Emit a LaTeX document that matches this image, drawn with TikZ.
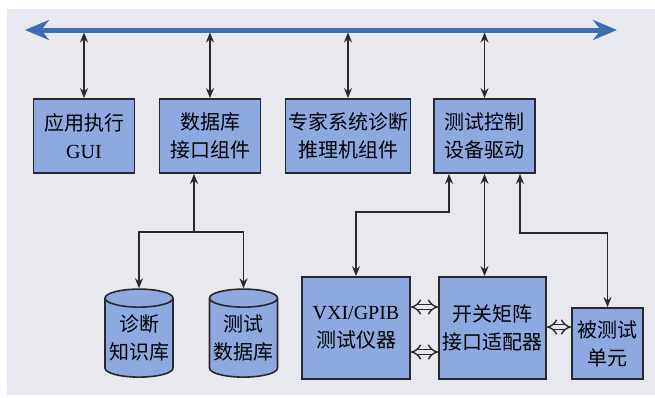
\documentclass[tikz,border=0pt]{standalone}
\usepackage{fontspec}
\setmainfont{Liberation Serif}
\newfontfamily\cjk{Noto Sans CJK SC}
\usetikzlibrary{arrows.meta,shapes.geometric}
\definecolor{paper}{RGB}{232,233,238}
\definecolor{boxblue}{RGB}{141,169,224}
\definecolor{busblue}{RGB}{61,109,181}
\definecolor{edge}{RGB}{40,40,45}
\begin{document}
\begin{tikzpicture}[x=1pt, y=-1pt,
    unit/.style={draw=edge, line width=1.8pt, fill=boxblue, align=center, inner sep=0pt,
      font=\cjk\fontsize{20}{28}\selectfont},
    store/.style={cylinder, shape border rotate=90, aspect=0.3, draw=edge, line width=1.6pt,
      fill=boxblue, align=center, inner sep=0pt, minimum width=68pt, minimum height=88pt,
      font=\cjk\fontsize{20}{28}\selectfont},
    link/.style={draw=edge, line width=1.3pt, {Stealth[length=10pt,width=8pt]}-{Stealth[length=10pt,width=8pt]}},
    uplink/.style={draw=edge, line width=1.3pt, -{Stealth[length=10pt,width=8pt]}},
    bus/.style={draw=busblue, line width=5pt, {Stealth[length=24pt,width=20pt]}-{Stealth[length=24pt,width=20pt]}},
    dbl/.style={draw=edge, line width=1.4pt, double=paper, double distance=3.8pt, {Implies}-{Implies}}]
        \useasboundingbox (0,0) rectangle (655,397);
        \fill[paper] (7,9) rectangle (655,395);

        \node[unit, minimum width=101pt, minimum height=74pt] (gui) at (84,136) {应用执行\\{\rmfamily GUI}};
        \node[unit, minimum width=101pt, minimum height=74pt] (dbif) at (210,136) {数据库\\接口组件};
        \node[unit, minimum width=125pt, minimum height=74pt] (expert) at (348,136) {专家系统诊断\\推理机组件};
        \node[unit, minimum width=101pt, minimum height=74pt] (ctrl) at (484.5,136) {测试控制\\设备驱动};

        \node[store] (kb) at (139,338) {诊断\\知识库};
        \node[store] (tdb) at (243.5,338) {测试\\数据库};

        \node[unit, minimum width=108pt, minimum height=102pt] (vxi) at (356,328) {{\rmfamily VXI/GPIB}\\测试仪器};
        \node[unit, minimum width=107pt, minimum height=102pt] (sw) at (492.5,328) {开关矩阵\\接口适配器};
        \node[unit, minimum width=71pt, minimum height=71pt] (dut) at (607.5,343.5) {被测试\\单元};

        \coordinate (busL) at (25,30);
        \coordinate (busR) at (617,30);
        \draw[bus] (busL) -- (busR);
        \foreach \n in {gui, dbif, expert, ctrl}
            \draw[link, shorten <=2.5pt] (\n.north |- busL) -- (\n.north);

        \coordinate (dbj) at (194,232);
        \draw[uplink] (dbj) -- (dbj |- dbif.south);
        \draw[link] (kb.north) |- (dbj) -| (tdb.north);

        \coordinate (vj) at (449,212);
        \coordinate (dj) at (520,233);
        \draw[link] (vj |- ctrl.south) -- (vj) -| (vxi.north);
        \draw[link] (ctrl.south) -- (ctrl.south |- sw.north);
        \draw[link] (dj |- ctrl.south) -- (dj) -| (dut.north);

        \draw[dbl] ([yshift=21pt]vxi.east) -- ([yshift=21pt]vxi.east -| sw.west);
        \draw[dbl] ([yshift=-24pt]vxi.east) -- ([yshift=-24pt]vxi.east -| sw.west);
        \draw[dbl] ([yshift=1pt]sw.east) -- ([yshift=1pt]sw.east -| dut.west);
      \end{tikzpicture}
\end{document}
